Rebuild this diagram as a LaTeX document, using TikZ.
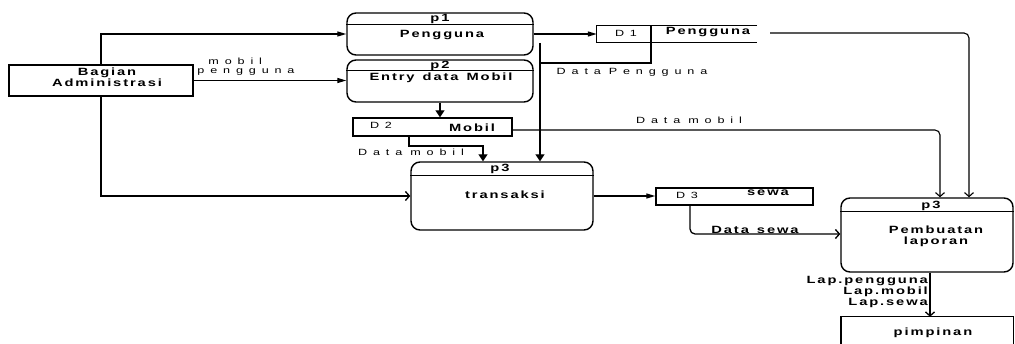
\documentclass[tikz,border=0pt]{standalone}
\usepackage{fontspec}
\setmainfont{Liberation Sans}
\newfontfamily\bsp[LetterSpace=18,FakeStretch=1.4]{Liberation Sans Bold}
\newfontfamily\rsp[LetterSpace=65,FakeStretch=1.4]{Liberation Sans}
\newcommand{\wsp}{\hspace{8pt}}
\newcommand{\rwsp}{\hspace{8pt}}
\usetikzlibrary{arrows.meta}
\begin{document}
\begin{tikzpicture}[x=1pt,y=-1pt,
  ln/.style={line width=1.3pt},
  thin2/.style={line width=1.1pt},
  fa/.style={-{Triangle[length=9pt,width=5pt]}},
  fb/.style={-{Triangle[length=7pt,width=9pt]}},
  oa/.style={-{Straight Barb[length=4pt,width=9pt]}},
  proc/.style={draw, line width=1.4pt, rounded corners=9pt, inner sep=0pt},
  ext/.style={draw, line width=1.4pt, inner sep=0pt},
  bt/.style={font=\bsp\fontsize{10.5}{9.5}\selectfont, inner sep=0pt, align=center},
  rt/.style={font=\rsp\fontsize{9}{9}\selectfont, inner sep=0pt, align=left},
]
\useasboundingbox (0,0) rectangle (1015,344);
\clip (0,0) rectangle (1015,344);

% external entity
\node[ext, minimum width=184pt, minimum height=31pt] (ba) at (101,80.5) {};
\node[bt] (tba) at (107,77.5) {Bagian\\Administrasi};

% processes
\node[proc, minimum width=186pt, minimum height=42pt] (p1) at (440,34) {};
\draw[line width=1.2pt] ([yshift=-12pt]p1.north west) -- ([yshift=-12pt]p1.north east);
\node[bt] (tp1a) at (440,19) {p1};
\node[bt] (tp1b) at (442,35) {Pengguna};

\node[proc, minimum width=186pt, minimum height=42pt] (p2) at (440,81) {};
\draw[line width=1.2pt] ([yshift=-11pt]p2.north west) -- ([yshift=-11pt]p2.north east);
\node[bt] (tp2a) at (440,65.5) {p2};
\node[bt] (tp2b) at (441,78) {Entry\wsp data\wsp Mobil};

\node[proc, minimum width=182pt, minimum height=68pt] (p3a) at (502,196) {};
\draw[line width=1.2pt] ([yshift=-14pt]p3a.north west) -- ([yshift=-14pt]p3a.north east);
\node[bt] (tp3a) at (500,168.5) {p3};
\node[bt] (tp3b) at (505,195) {transaksi};

\node[proc, minimum width=172pt, minimum height=74pt] (p3b) at (927,235) {};
\draw[line width=1.2pt] ([yshift=-14pt]p3b.north west) -- ([yshift=-14pt]p3b.north east);
\node[bt] (tp3c) at (931,206) {p3};
\node[bt] (tp3d) at (936,230) {Pembuatan};
\node[bt] (tp3e) at (936,241.5) {laporan};

% data stores
\node[inner sep=0pt, minimum width=160pt, minimum height=16pt] (d1) at (677,34) {};
\draw[ln] (d1.north east) -- (d1.north west) -- (d1.south west) -- (d1.south east);
\coordinate (d1top) at (651,26);
\coordinate (d1bot) at (651,42);
\draw[ln] (d1top) -- (d1bot);
\node[rt] (td1a) at (626,33) {D1};
\node[bt] (td1b) at (708,32.5) {Pengguna};

\node[ext, minimum width=159pt, minimum height=18pt] (d2) at (432.5,127) {};
\node[rt] (td2a) at (381,125) {D2};
\node[bt] (td2b) at (472,128) {Mobil};

\node[ext, minimum width=157pt, minimum height=17pt] (d3) at (734.5,196.5) {};
\node[rt] (td3a) at (687,195.5) {D3};
\node[bt] (td3b) at (768,193) {sewa};

% pimpinan
\node[inner sep=0pt, minimum width=172pt, minimum height=33pt] (pim) at (927,333.5) {};
\draw[line width=1.4pt] (pim.south west) -- (pim.north west) -- (pim.north east) -- (pim.south east);
\node[bt] (tpim) at (933,332.5) {pimpinan};

% coordinates for connectors
\coordinate (c1) at (540,63);
\coordinate (c2) at (540,43);
\coordinate (c3) at (409,146);
\coordinate (c4) at (483,146);
\coordinate (c5) at (770,33);
\coordinate (c6) at (969,33);
\coordinate (c7) at (940,130);
\coordinate (c8) at (690,234);
\coordinate (c9) at (930,0);
\coordinate (d2out) at (512,130);
\coordinate (d2dn) at (409,136);

% connectors
\draw[ln,fa] (ba.north) |- (p1.west);
\draw[ln,fa] (ba.east) -- (ba.east -| p2.west);
\draw[ln,oa] (ba.south) |- (p3a.west);
\draw[ln,fa] (p1.east) -- (d1.west);
\draw[ln] (d1bot) |- (c1);
\draw[ln,fb] (c2) -- (c2 |- p3a.north);
\draw[ln,fb] (p2.south) -- (p2.south |- d2.north);
\draw[ln,fb] (d2dn) -- (c3) -- (c4) -- (c4 |- p3a.north);
\draw[thin2,oa,rounded corners=5pt] (d2out) -- (c7) -- (c7 |- p3b.north);
\draw[thin2,oa,rounded corners=5pt] (c5) -- (c6) -- (c6 |- p3b.north);
\draw[ln,fa] (p3a.east) -- (p3a.east -| d3.west);
\draw[ln,oa,rounded corners=5pt] (d3.south -| c8) -- (c8) -- (c8 -| p3b.west);
\draw[ln,oa] (p3b.south -| c9) -- (pim.north -| c9);

% labels
\node[rt] (lmp) at (246,66.5) {\hspace*{11pt}mobil\\pengguna};
\node[rt] (ldp) at (632,72) {Data\rwsp Pengguna};
\node[rt] (ldm1) at (411,152) {Data\rwsp mobil};
\node[rt] (ldm2) at (689,120) {Data\rwsp mobil};
\node[bt] (lds) at (755,230) {Data\wsp sewa};
\node[bt, anchor=east] (llap1) at (928,281) {Lap.pengguna};
\node[bt, anchor=east] (llap2) at (928,292) {Lap.mobil};
\node[bt, anchor=east] (llap3) at (928,302.5) {Lap.sewa};
\end{tikzpicture}
\end{document}
